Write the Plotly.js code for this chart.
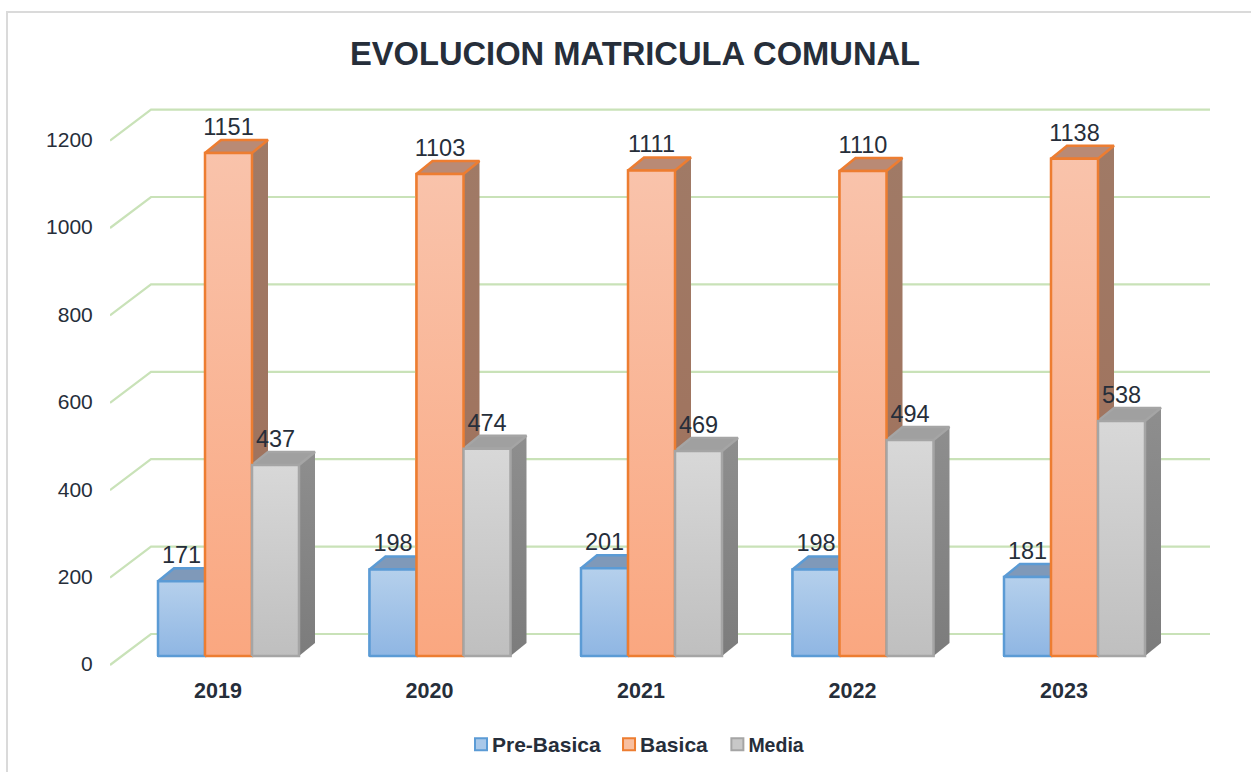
<!DOCTYPE html>
<html>
<head>
<meta charset="utf-8">
<script src="https://cdn.plot.ly/plotly-3.0.1.min.js"></script>
<style>
html,body{margin:0;padding:0;background:#fff;overflow:hidden}
#plot{position:absolute;left:0;top:0;width:1251px;height:772px}
#frame{position:absolute;left:6px;top:11px;right:0;bottom:0;border-left:2px solid #dadada;border-top:2px solid #dadada;pointer-events:none}
</style>
</head>
<body>
<div id="plot"></div>
<div id="frame"></div>
<script>
// ---- data ----
const years = ['2019','2020','2021','2022','2023'];
const preBasica = [171,198,201,198,181];
const basica = [1151,1103,1111,1110,1138];
const media = [437,474,469,494,538];
const yTicks = [0,200,400,600,800,1000,1200];

// ---- geometry in axis units ----
const W = 1251, H = 772;
const pxPerUnit = 0.437, pxPerCat = 211.5;
const left = 110, right = 1210, top_ = 100, bottom = 672, zeroPx = 656, firstCenterPx = 228.5;
const barW = 47/pxPerCat;
const depthX = 16/pxPerCat, depthY = 13/pxPerUnit;
const xRange = [(left-firstCenterPx)/pxPerCat, (right-firstCenterPx)/pxPerCat];
const yRange = [(zeroPx-bottom)/pxPerUnit, (zeroPx-top_)/pxPerUnit];
const labelShift = 8/pxPerUnit;     // tick labels sit at the front of the floor
const gridFront = -9/pxPerUnit, gridBack = 22/pxPerUnit;
const gridKneeX = (151-firstCenterPx)/pxPerCat;
const yearShift = -10.5/pxPerCat;
const textColor = '#262E3A';

const series = [
 {name:'Pre-Basica', vals:preBasica, off:-1, line:'#5B9BD5', swatch:'#A9C8E9', face:['#B5D0EC','#8FB6E3'], top:'#7F99B9', side:['#6F8AA8','#5F7A98'], legend:'Pre-Basica'},
 {name:'Basica', vals:basica, off:0, line:'#ED7D31', swatch:'#F8BFA0', face:['#F9C3AB','#FAA780'], top:'#B98A75', side:['#A07A66','#A0705A'], legend:'Basica'},
 {name:'Media', vals:media, off:1, line:'#A5A5A5', swatch:'#C8C8C8', face:['#D8D8D8','#BFBFBF'], top:'#A0A0A0', side:['#8E8E8E','#7C7C7C'], legend:'<span style="font-size:19.5px">Media</span>'}
];

const traces = [];
// legend-bearing real bars (base layer)
series.forEach(s=>{
  traces.push({type:'bar', name:s.legend, x:years.map((_,i)=>i+s.off*barW), y:s.vals, width:barW,
    marker:{color:s.swatch,line:{color:s.line,width:2}}, hoverinfo:'skip', showlegend:true});
});
// floor / wall gridlines
const gx=[], gy=[];
yTicks.forEach(v=>{ gx.push(xRange[0],gridKneeX,xRange[1],null); gy.push(v+gridFront,v+gridBack,v+gridBack,null); });
traces.push({type:'scatter',mode:'lines',x:gx,y:gy,line:{color:'#C9E2B8',width:2.2},hoverinfo:'skip',showlegend:false,cliponaxis:false});

function poly(xs,ys,fill,line,grad){
  const t={type:'scatter',mode:'lines',x:xs.concat(xs[0]),y:ys.concat(ys[0]),fill:'toself',
    line:line?{color:line,width:2.5}:{width:0},hoverinfo:'skip',showlegend:false,cliponaxis:false};
  if(grad) t.fillgradient={type:'vertical',colorscale:[[0,grad[1]],[1,grad[0]]]};
  else t.fillcolor=fill;
  return t;
}
// painter's order: back-to-front within every group
years.forEach((_,i)=>{
  series.forEach(s=>{
    const v=s.vals[i], c=i+s.off*barW, a=c-barW/2, b=c+barW/2;
    traces.push(poly([b,b+depthX,b+depthX,b],[0,depthY,v+depthY,v],null,null,s.side));
    traces.push(poly([a,a+depthX,b+depthX,b],[v,v+depthY,v+depthY,v],s.top,s.line));
  });
});
years.forEach((_,i)=>{
  series.forEach(s=>{
    const v=s.vals[i], c=i+s.off*barW, a=c-barW/2, b=c+barW/2;
    traces.push(poly([a,b,b,a],[0,0,v,v],null,s.line,s.face));
  });
});
// data labels
const lx=[],ly=[],lt=[];
series.forEach(s=>s.vals.forEach((v,i)=>{lx.push(i+s.off*barW);ly.push(v+depthY+11/pxPerUnit);lt.push(String(v));}));
traces.push({type:'scatter',mode:'text',x:lx,y:ly,text:lt,textposition:'middle center',
  textfont:{family:'Liberation Sans, Arial, sans-serif',size:23.5,color:textColor},hoverinfo:'skip',showlegend:false,cliponaxis:false});

const layout={
  width:W,height:H,paper_bgcolor:'#fff',plot_bgcolor:'rgba(0,0,0,0)',showlegend:true,
  margin:{l:left,r:W-right,t:top_,b:H-bottom,pad:0},
  font:{family:'Liberation Sans, Arial, sans-serif',color:textColor},
  title:{text:'<b>EVOLUCION MATRICULA COMUNAL</b>',font:{size:32.7,color:textColor,family:'Liberation Sans, Arial, sans-serif'},x:635/W,xanchor:'center',y:1-54/H,yanchor:'middle'},
  barmode:'overlay',
  xaxis:{range:xRange,tickvals:years.map((_,i)=>i+yearShift),ticktext:years.map(y=>'<b>'+y+'</b>'),showgrid:false,zeroline:false,showline:false,
    ticks:'',ticklen:0,ticklabelstandoff:3,tickfont:{size:21.5,color:textColor},fixedrange:true},
  yaxis:{range:yRange,visible:false,fixedrange:true},
  yaxis2:{overlaying:'y',side:'left',range:[yRange[0]+labelShift,yRange[1]+labelShift],tickvals:yTicks,showgrid:false,zeroline:false,showline:false,
    ticks:'outside',ticklen:12,tickcolor:'rgba(0,0,0,0)',tickfont:{size:21,color:textColor},fixedrange:true},
  legend:{orientation:'h',x:461/W,xanchor:'left',y:1-724/H,yanchor:'top',yref:'container',xref:'container',font:{size:21,color:textColor},bgcolor:'rgba(0,0,0,0)',traceorder:'normal'}
};
// an invisible trace puts the label axis on the chart
traces.push({type:'scatter',mode:'none',x:[0],y:[0],yaxis:'y2',showlegend:false,hoverinfo:'skip'});

Plotly.newPlot('plot',traces,layout,{displayModeBar:false,staticPlot:true}).then(gd=>{
  gd.querySelectorAll('.legendtext').forEach(t=>{ t.style.fontWeight='bold'; t.setAttribute('x', +t.getAttribute('x')-9); });
});
</script>
</body>
</html>
